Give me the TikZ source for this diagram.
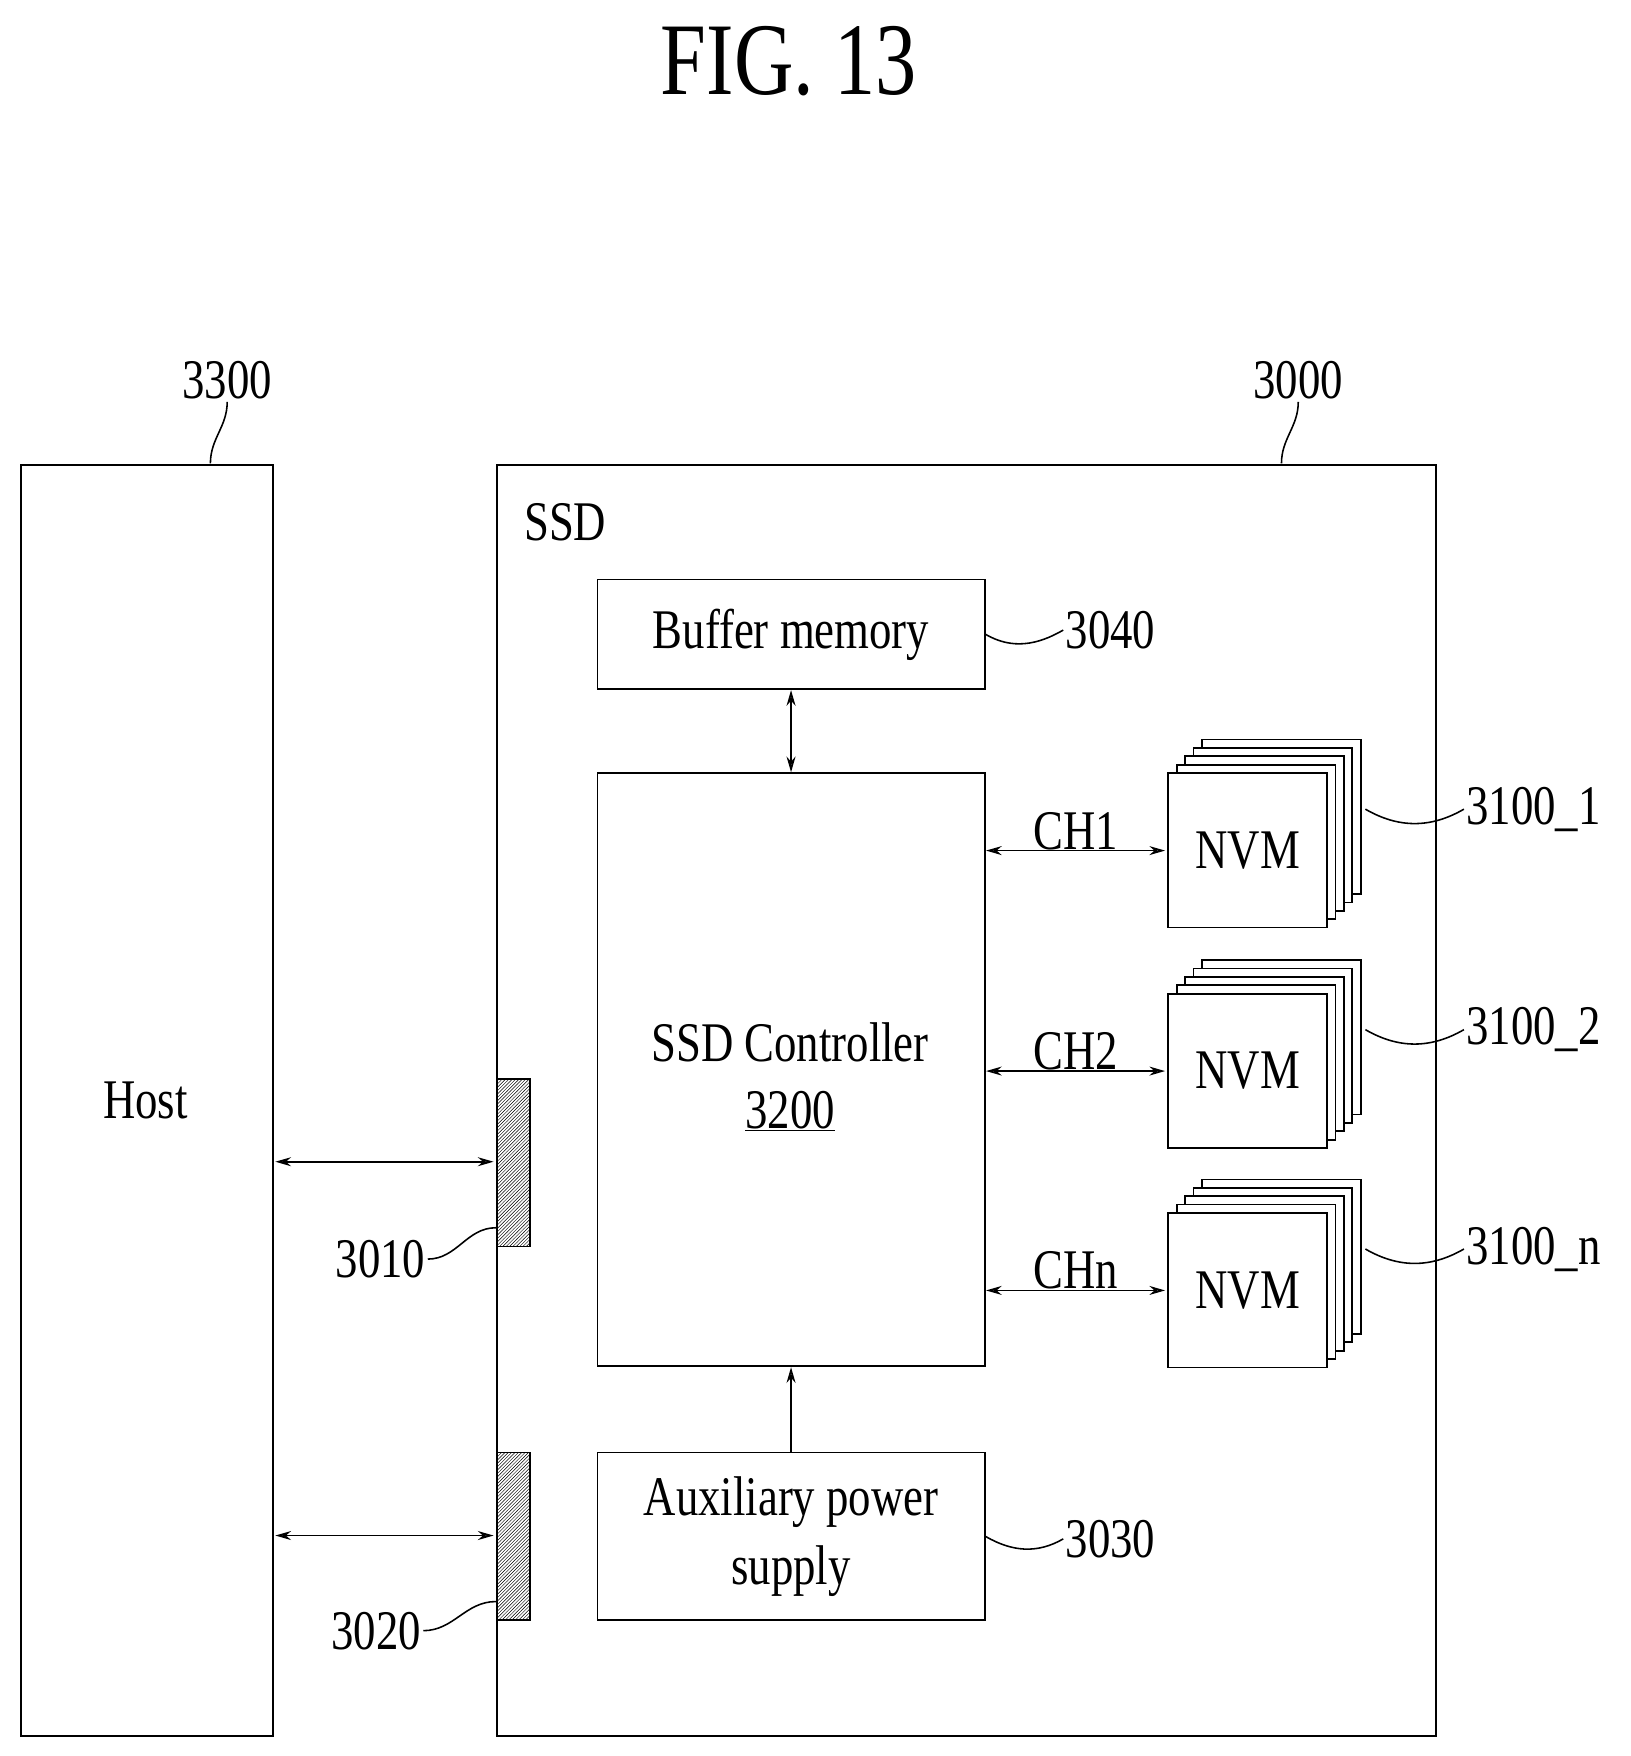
\documentclass[tikz,border=0pt]{standalone}
\usepackage{fontspec}
\setmainfont{Liberation Serif}[FakeStretch=0.8]
\usetikzlibrary{patterns,arrows.meta}
\begin{document}
\begin{tikzpicture}[x=1pt,y=-1pt,
  box/.style={draw,line width=1.6pt,inner sep=0,anchor=north west,fill=white},
  lbl/.style={font=\fontsize{50}{56}\selectfont,inner sep=2pt},
  conn/.style={line width=1.6pt},
  arr/.style={line width=1.6pt,{Stealth[length=14pt,width=8pt,open]}-{Stealth[length=14pt,width=8pt,open]}},
  sarr/.style={line width=1.6pt,-{Stealth[length=14pt,width=8pt,open]}},
  sq/.style={line width=1.4pt}]
\useasboundingbox (0,0) rectangle (1457,1569);
\node[font=\fontsize{92}{100}\selectfont] (title) at (705,55) {FIG. 13};
% Host
\node[box,minimum width=225pt,minimum height=1135pt] (host) at (18,415) {};
\node[lbl] (hostt) at (130,983) {Host};
\node[lbl] (l3300) at (203,340) {3300};
\draw[sq] (188,414) to[out=90,in=-90] (l3300.south);
% SSD
\node[box,minimum width=839pt,minimum height=1135pt] (ssd) at (443,415) {};
\node[lbl] (ssdt) at (505,467) {SSD};
\node[lbl] (l3000) at (1160,340) {3000};
\draw[sq] (1145,414) to[out=90,in=-90] (l3000.south);
% buffer
\node[box,minimum width=346pt,minimum height=98pt] (buf) at (533,517) {};
\node[lbl] at (buf.center) {Buffer memory};
\node[lbl,anchor=west] (l3040) at (950,563) {3040};
\draw[sq] (buf.east) to[out=-30,in=210] (l3040.west);
% controller
\node[box,minimum width=346pt,minimum height=530pt] (ctl) at (533,690) {};
\node[lbl,align=center] at (706,962) {SSD Controller\\[4pt]\underline{3200}};
\draw[arr] (buf.south) -- (ctl.north);
% aux
\node[box,minimum width=346pt,minimum height=150pt] (aux) at (533,1297) {};
\node[lbl,align=center,font=\fontsize{50}{62}\selectfont] at (aux.center) {Auxiliary power\\supply};
\node[lbl,anchor=west] (l3030) at (950,1375) {3030};
\draw[sq] (aux.east) to[out=-30,in=210] (l3030.west);
\draw[sarr] (aux.north) -- (ctl.south);
% ports
\node[box,pattern=north east lines,minimum width=30pt,minimum height=150pt] (p1) at (443,963) {};
\node[box,pattern=north east lines,minimum width=30pt,minimum height=150pt] (p2) at (443,1297) {};
\node[lbl] (l3010) at (340,1125) {3010};
\node[lbl] (l3020) at (336,1457) {3020};
\draw[sq] (l3010.east) to[out=0,in=180] (p1.south west|-0,1097);
\draw[sq] (l3020.east) to[out=0,in=180] (p2.south west|-0,1431);
\coordinate (h1) at (246,1038); \coordinate (q1) at (441,1038);
\coordinate (h2) at (246,1372); \coordinate (q2) at (441,1372);
\draw[arr] (h1) -- (q1);
\draw[arr] (h2) -- (q2);
% NVM stacks
\foreach \y/\n/\c/\t in {690/1/CH1/3100\_1, 887/2/CH2/3100\_2, 1083/n/CHn/3100\_n}{
  \foreach \k in {4,3,2,1}{
    \node[box,minimum width=142pt,minimum height=138pt] at (1043+7.5*\k,\y-7.5*\k) {};
  }
  \node[box,minimum width=142pt,minimum height=138pt] (nvm\n) at (1043,\y) {};
  \node[lbl] at (nvm\n.center) {NVM};
  \coordinate (c\n) at (881,\y+70);
  \coordinate (e\n) at (1041,\y+70);
  \draw[arr] (c\n) -- node[lbl,above=-2pt] {\c} (e\n);
  \coordinate (s\n) at (1220,\y+33);
  \node[lbl,anchor=west] (lab\n) at (1308,\y+33) {\t};
  \draw[sq] (s\n) to[out=-30,in=210] (lab\n.west);
}
\end{tikzpicture}
\end{document}
